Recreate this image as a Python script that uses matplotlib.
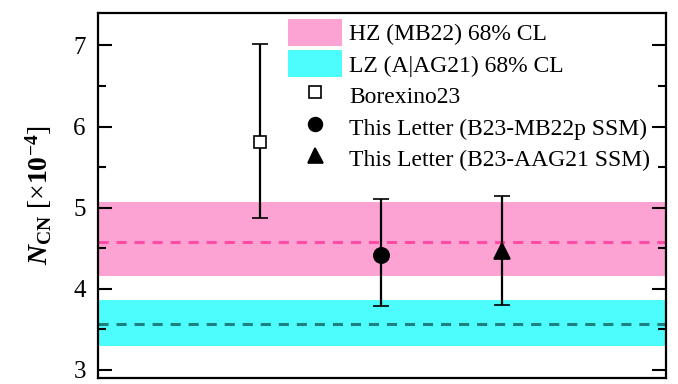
import matplotlib
matplotlib.use("Agg")
import matplotlib.pyplot as plt
from matplotlib.lines import Line2D
from matplotlib.patches import Patch

# bands: (low, central, high)
HZ_BAND = (4.16, 4.58, 5.07)
LZ_BAND = (3.29, 3.56, 3.86)

LABELS = ["Borexino23", "This Letter (B23-MB22p SSM)", "This Letter (B23-AAG21 SSM)"]
X_POS = [1, 2, 3]
VALUES = [5.81, 4.41, 4.46]
ERR_LOW = [0.94, 0.62, 0.66]
ERR_HIGH = [1.21, 0.70, 0.68]
MARKERS = ["s", "o", "^"]
FACES = ["white", "black", "black"]
SIZES = [9, 11, 12]

plt.rcParams["font.family"] = ["Liberation Serif", "DejaVu Serif"]
plt.rcParams["mathtext.fontset"] = "custom"
plt.rcParams["mathtext.rm"] = "Liberation Serif"
plt.rcParams["mathtext.it"] = "Liberation Serif:italic"
plt.rcParams["mathtext.bf"] = "Liberation Serif:bold"
plt.rcParams["mathtext.bfit"] = "Liberation Serif:italic:bold"

fig = plt.figure(figsize=(6.78, 3.84), dpi=100)
ax = fig.add_axes([0.145, 0.016, 0.837, 0.950])

ax.axhspan(HZ_BAND[0], HZ_BAND[2], color="#fca3d3", lw=0, zorder=1)
ax.axhline(HZ_BAND[1], color="#ff4aa6", ls=(0, (3.3, 2.6)), lw=2.2, zorder=2)
ax.axhspan(LZ_BAND[0], LZ_BAND[2], color="#4dfdfd", lw=0, zorder=1)
ax.axhline(LZ_BAND[1], color="#1f8080", ls=(0, (3.3, 2.6)), lw=2.2, zorder=2)

for x, v, lo, hi, m, fc, s in zip(X_POS, VALUES, ERR_LOW, ERR_HIGH, MARKERS, FACES, SIZES):
    ax.errorbar([x], [v], yerr=[[lo], [hi]], fmt=m, mfc=fc, mec="black", mew=1.2,
                ms=s, color="black", ecolor="black", elinewidth=1.6, capsize=5.5,
                capthick=1.6, zorder=3)

ax.set_xlim(-0.34, 4.35)
ax.set_ylim(2.9, 7.4)
ax.set_xticks([])
ax.set_yticks([3, 4, 5, 6, 7])
ax.set_yticks([3.5, 4.5, 5.5, 6.5], minor=True)
ax.tick_params(axis="y", which="both", direction="in", right=True, labelsize=18,
               width=1.5, pad=9)
ax.tick_params(axis="y", which="major", length=10)
ax.tick_params(axis="y", which="minor", length=6)
for sp in ax.spines.values():
    sp.set_linewidth(1.6)

ax.set_ylabel(r"$\mathbfit{N}_{\mathbf{CN}}$ [×$\mathbf{10^{-4}}$]", fontsize=20,
              labelpad=14)

handles = [Patch(facecolor="#fca3d3", edgecolor="none"),
           Patch(facecolor="#4dfdfd", edgecolor="none")]
for m, fc, s in zip(MARKERS, FACES, SIZES):
    handles.append(Line2D([], [], ls="none", marker=m, mfc=fc, mec="black",
                          mew=1.2, ms=s * 0.9))
ax.legend(handles, ["HZ (MB22) 68% CL", "LZ (A|AG21) 68% CL"] + LABELS,
          loc="upper left", bbox_to_anchor=(0.334, 0.985), frameon=False, fontsize=17,
          handlelength=2.3, handleheight=1.4, labelspacing=0.18, handletextpad=0.3,
          borderaxespad=0, borderpad=0)

fig.savefig("out.png", dpi=100)
